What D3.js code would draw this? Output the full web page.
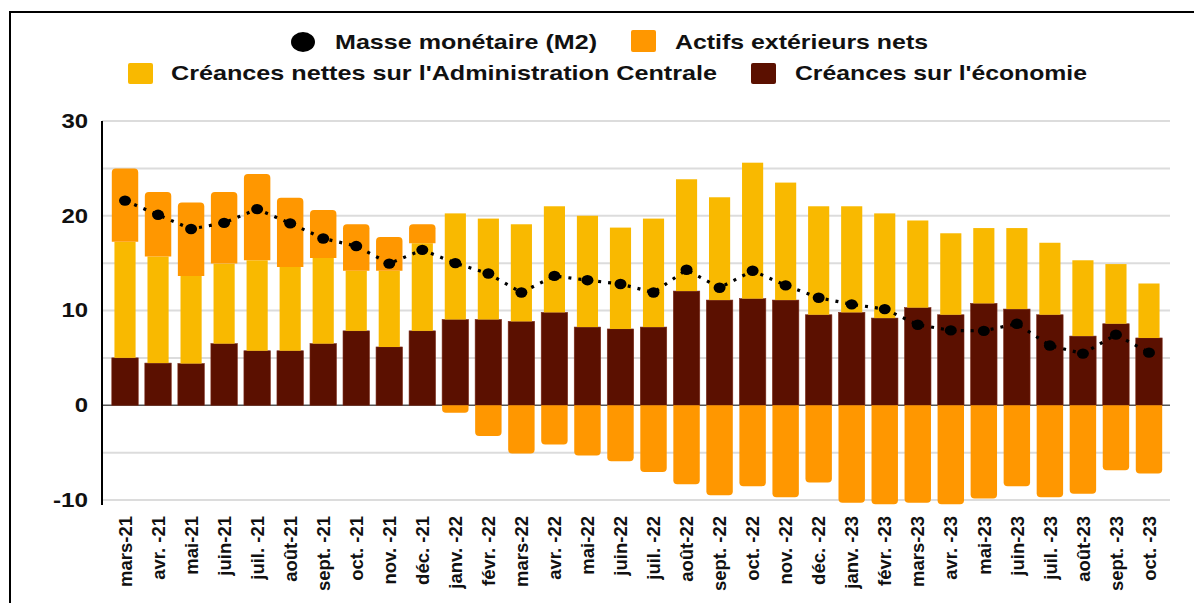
<!DOCTYPE html>
<html>
<head>
<meta charset="utf-8">
<script src="https://cdn.jsdelivr.net/npm/d3@7"></script>
<style>
  html, body { margin: 0; padding: 0; background: #fff; }
  svg { display: block; font-family: "Liberation Sans", Arial, sans-serif; }
</style>
</head>
<body>
<svg id="chart" width="1194" height="603"></svg>
<script>
const months = ["mars-21","avr. -21","mai-21","juin-21","juil. -21","août-21","sept. -21","oct. -21","nov. -21","déc. -21",
  "janv. -22","févr. -22","mars-22","avr. -22","mai-22","juin-22","juil. -22","août-22","sept. -22","oct. -22",
  "nov. -22","déc. -22","janv. -23","févr. -23","mars-23","avr. -23","mai-23","juin-23","juil. -23","août-23","sept. -23","oct. -23"];
// Créances sur l'économie
const econ = [5.0,4.45,4.4,6.5,5.75,5.75,6.5,7.85,6.15,7.85,
  9.05,9.05,8.85,9.8,8.25,8.05,8.25,12.05,11.1,11.25,
  11.1,9.55,9.8,9.2,10.3,9.55,10.75,10.15,9.55,7.3,8.6,7.1];
// Créances nettes sur l'Administration Centrale
const admin = [12.25,11.25,9.25,8.45,9.55,8.85,9.05,6.35,8.05,9.25,
  11.2,10.65,10.25,11.2,11.75,10.7,11.45,11.8,10.85,14.35,
  12.4,11.45,11.2,11.05,9.2,8.6,7.95,8.55,7.6,8.0,6.3,5.75];
// Actifs extérieurs nets
const ext = [7.75,6.8,7.75,7.55,9.1,7.3,5.05,4.9,3.55,2.0,
  -0.8,-3.25,-5.1,-4.15,-5.3,-5.9,-7.05,-8.35,-9.5,-8.55,
  -9.7,-8.15,-10.3,-10.45,-10.3,-10.45,-9.85,-8.55,-9.7,-9.35,-6.85,-7.2];
// Masse monétaire (M2)
const m2 = [21.6,20.1,18.6,19.25,20.7,19.2,17.6,16.8,14.95,16.4,
  15.0,13.9,11.9,13.65,13.2,12.8,11.9,14.3,12.4,14.2,
  12.65,11.35,10.65,10.15,8.5,7.9,7.85,8.6,6.3,5.45,7.45,5.55];
const yTicks = [-10, 0, 10, 20, 30];
const gridValues = [-10, -5, 0, 5, 10, 15, 20, 25, 30];
const seriesNames = ["Masse monétaire (M2)", "Actifs extérieurs nets", "Créances nettes sur l'Administration Centrale", "Créances sur l'économie"];

const COL_DARK = "#5b1000", COL_YEL = "#f9b900", COL_ORA = "#ff9700";

const svg = d3.select("#chart");

// frame
svg.append("path").attr("d", "M10,603 L10,12 L1196,12").attr("fill", "none").attr("stroke", "#000").attr("stroke-width", 2);

const x = d3.scaleBand().domain(months).range([108.5, 1165.5]).paddingInner(0.2).paddingOuter(0.1);
const y = d3.scaleLinear().domain([-10, 30]).range([500, 121]);
const plotL = 102, plotR = 1170;

// gridlines
svg.append("g").selectAll("line").data(gridValues).join("line")
  .attr("x1", plotL).attr("x2", plotR)
  .attr("y1", d => y(d)).attr("y2", d => y(d))
  .attr("stroke", d => d === 0 ? "#555" : "#dcdcdc")
  .attr("stroke-width", d => d === 0 ? 1.5 : 2);

// y axis
const yAxis = d3.axisLeft(y).tickValues(yTicks).tickSize(0).tickPadding(14).tickFormat(d => String(d));
const ya = svg.append("g").attr("transform", `translate(${plotL},0)`).call(yAxis);
ya.select(".domain").remove();
ya.selectAll("text").attr("font-size", 20).attr("font-weight", "bold").attr("fill", "#111")
  .attr("font-family", "'Liberation Sans', Arial, sans-serif")
  .attr("lengthAdjust", "spacingAndGlyphs")
  .attr("textLength", d => (String(Math.abs(d)).length * 13.3 + (d < 0 ? 8.5 : 0)));
svg.append("line").attr("x1", plotL).attr("x2", plotL).attr("y1", y(30)).attr("y2", 505)
  .attr("stroke", "#000").attr("stroke-width", 2);

const bw = x.bandwidth();
const ybw = bw * 0.8;
const r = 4;

function roundedRect(x0, w, yTop, yBot, roundTop) {
  const h = yBot - yTop;
  const rr = Math.min(r, h / 2, w / 2);
  if (roundTop) {
    return `M${x0},${yBot} L${x0},${yTop + rr} Q${x0},${yTop} ${x0 + rr},${yTop} L${x0 + w - rr},${yTop} Q${x0 + w},${yTop} ${x0 + w},${yTop + rr} L${x0 + w},${yBot} Z`;
  } else {
    return `M${x0},${yTop} L${x0 + w},${yTop} L${x0 + w},${yBot - rr} Q${x0 + w},${yBot} ${x0 + w - rr},${yBot} L${x0 + rr},${yBot} Q${x0},${yBot} ${x0},${yBot - rr} Z`;
  }
}

const idx = d3.range(months.length);

// Créances sur l'économie (dark)
svg.append("g").selectAll("rect").data(idx).join("rect")
  .attr("x", i => x(months[i])).attr("width", bw)
  .attr("y", i => y(econ[i])).attr("height", i => y(0) - y(econ[i]))
  .attr("fill", COL_DARK).attr("stroke", "#7a2a18").attr("stroke-width", 0.6);

// Administration centrale (yellow) stacked on econ
svg.append("g").selectAll("rect").data(idx).join("rect")
  .attr("x", i => x(months[i]) + (bw - ybw) / 2).attr("width", ybw)
  .attr("y", i => y(econ[i] + admin[i])).attr("height", i => y(econ[i]) - y(econ[i] + admin[i]))
  .attr("fill", COL_YEL);

// Actifs extérieurs nets (orange)
svg.append("g").selectAll("path").data(idx).join("path")
  .attr("d", i => {
    const x0 = x(months[i]);
    if (ext[i] >= 0) {
      const base = econ[i] + admin[i];
      return roundedRect(x0, bw, y(base + ext[i]), y(base), true);
    } else {
      return roundedRect(x0, bw, y(0), y(ext[i]), false);
    }
  })
  .attr("fill", COL_ORA);

// M2 dotted line + markers
const line = d3.line().x(i => x(months[i]) + bw / 2).y(i => y(m2[i]));
svg.append("path").datum(idx).attr("d", line)
  .attr("fill", "none").attr("stroke", "#000").attr("stroke-width", 3.2)
  .attr("stroke-dasharray", "3,7");
svg.append("g").selectAll("ellipse").data(idx).join("ellipse")
  .attr("cx", i => x(months[i]) + bw / 2).attr("cy", i => y(m2[i]))
  .attr("rx", 6).attr("ry", 5.2).attr("fill", "#000");

// x labels
svg.append("g").selectAll("text").data(months).join("text")
  .attr("transform", d => `translate(${x(d) + bw / 2},516) rotate(-90)`)
  .attr("text-anchor", "end").attr("dy", "0.36em")
  .attr("font-size", 18.5).attr("font-weight", "bold").attr("fill", "#111")
  .text(d => d);

// legend
const lg = svg.append("g").attr("font-size", 21).attr("font-weight", "bold").attr("fill", "#111");
function legText(xp, yp, txt, len) {
  lg.append("text").attr("x", xp).attr("y", yp).attr("textLength", len)
    .attr("lengthAdjust", "spacingAndGlyphs").text(txt);
}
lg.append("ellipse").attr("cx", 303).attr("cy", 42).attr("rx", 12).attr("ry", 10).attr("fill", "#000");
legText(335, 49, seriesNames[0], 262);
lg.append("rect").attr("x", 631).attr("y", 30).attr("width", 25).attr("height", 22).attr("rx", 2).attr("fill", COL_ORA);
legText(675, 49, seriesNames[1], 253);
lg.append("rect").attr("x", 128).attr("y", 63).attr("width", 25).attr("height", 21).attr("rx", 2).attr("fill", COL_YEL);
legText(171, 80, seriesNames[2], 546);
lg.append("rect").attr("x", 751).attr("y", 63).attr("width", 25).attr("height", 21).attr("rx", 2).attr("fill", COL_DARK);
legText(795, 80, seriesNames[3], 292);
</script>
</body>
</html>
